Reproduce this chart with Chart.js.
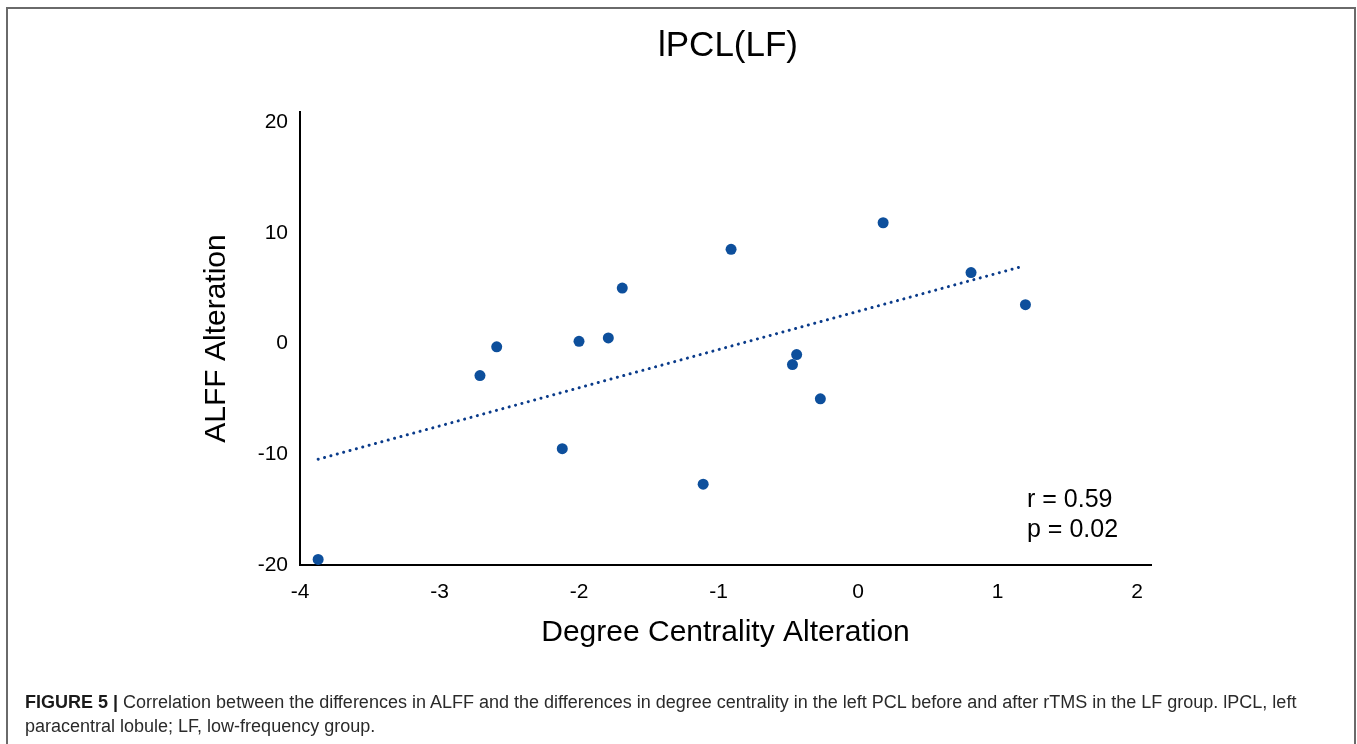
<!DOCTYPE html>
<html>
<head>
<meta charset="utf-8">
<script src="https://cdn.jsdelivr.net/npm/chart.js@4.4.1/dist/chart.umd.min.js"></script>
<style>
  html, body { margin: 0; padding: 0; background: #fff; }
  body { width: 1357px; height: 744px; position: relative; overflow: hidden;
         font-family: "Liberation Sans", Arial, sans-serif; }
  #frame { position: absolute; left: 6px; top: 7px; width: 1346px; height: 800px;
           border: 2px solid #6a6a6a; border-bottom: none; }
  #chart { position: absolute; left: 0; top: 0; }
  #title { position: absolute; left: 528px; width: 400px; top: 26px; text-align: center;
           font-size: 35px; line-height: 35px; color: #000; }
  #stats { position: absolute; left: 1027px; top: 483px; font-size: 25px; line-height: 30px; color: #000; }
  #caption { position: absolute; left: 25px; top: 690px; font-size: 18px; line-height: 24px; color: #2a2a2a; white-space: nowrap; }
  #caption b { color: #1a1a1a; }
</style>
</head>
<body>
<div id="frame"></div>
<canvas id="chart" width="1357" height="744"></canvas>
<div id="title">lPCL(LF)</div>
<div id="stats">r = 0.59<br>p = 0.02</div>
<div id="caption"><b>FIGURE 5 |</b> Correlation between the differences in ALFF and the differences in degree centrality in the left PCL before and after rTMS in the LF group. lPCL, left<br>paracentral lobule; LF, low-frequency group.</div>
<script>
// degree centrality change (x) vs ALFF change (y)
const dcChange   = [-3.87, -2.71, -2.59, -2.12, -2.00, -1.79, -1.69, -1.11, -0.91, -0.44, -0.47, -0.27, 0.18, 0.81, 1.20];
const alffChange = [-19.5, -2.9, -0.3, -9.5, 0.2, 0.5, 5.0, -12.7, 8.5, -1.0, -1.9, -5.0, 10.9, 6.4, 3.5];

// fitted line end points
const fitX = [-3.87, 1.16];
const fitY = [-10.45, 6.9];

const xTicks = [-4, -3, -2, -1, 0, 1, 2];
const yTicks = [-20, -10, 0, 10, 20];

const points = dcChange.map((x, i) => ({ x: x, y: alffChange[i] }));
const fitLine = fitX.map((x, i) => ({ x: x, y: fitY[i] }));

const tickFont = { family: '"Liberation Sans", Arial, sans-serif', size: 21 };
const titleFont = { family: '"Liberation Sans", Arial, sans-serif', size: 30 };

new Chart(document.getElementById('chart').getContext('2d'), {
  type: 'scatter',
  data: {
    datasets: [
      {
        data: points,
        backgroundColor: '#0d4f9c',
        borderColor: '#0d4f9c',
        pointRadius: 5.5,
        borderWidth: 0
      },
      {
        type: 'line',
        data: fitLine,
        borderColor: '#0a3b8a',
        borderWidth: 3,
        borderDash: [0.1, 6.5],
        borderCapStyle: 'round',
        pointRadius: 0,
        fill: false
      }
    ]
  },
  options: {
    responsive: false,
    animation: false,
    layout: { padding: { left: 199, top: 112, right: 206, bottom: 93 } },
    plugins: { legend: { display: false }, tooltip: { enabled: false } },
    scales: {
      x: {
        type: 'linear',
        min: -4,
        max: 2.1,
        grid: { display: false, drawTicks: false },
        border: { display: true, color: '#000', width: 2 },
        afterBuildTicks: (s) => { s.ticks = xTicks.map(v => ({ value: v })); },
        afterFit: (s) => { s.height = 86; },
        ticks: { color: '#000', font: tickFont, padding: 15, maxRotation: 0 },
        title: { display: true, text: 'Degree Centrality Alteration', color: '#000', font: titleFont, padding: 0 }
      },
      y: {
        type: 'linear',
        min: -20,
        max: 20.9,
        grid: { display: false, drawTicks: false },
        border: { display: true, color: '#000', width: 2 },
        afterBuildTicks: (s) => { s.ticks = yTicks.map(v => ({ value: v })); },
        afterFit: (s) => { s.width = 101; },
        ticks: { color: '#000', font: tickFont, padding: 12 },
        title: { display: true, text: 'ALFF Alteration', color: '#000', font: titleFont, padding: 0 }
      }
    }
  }
});
</script>
</body>
</html>
